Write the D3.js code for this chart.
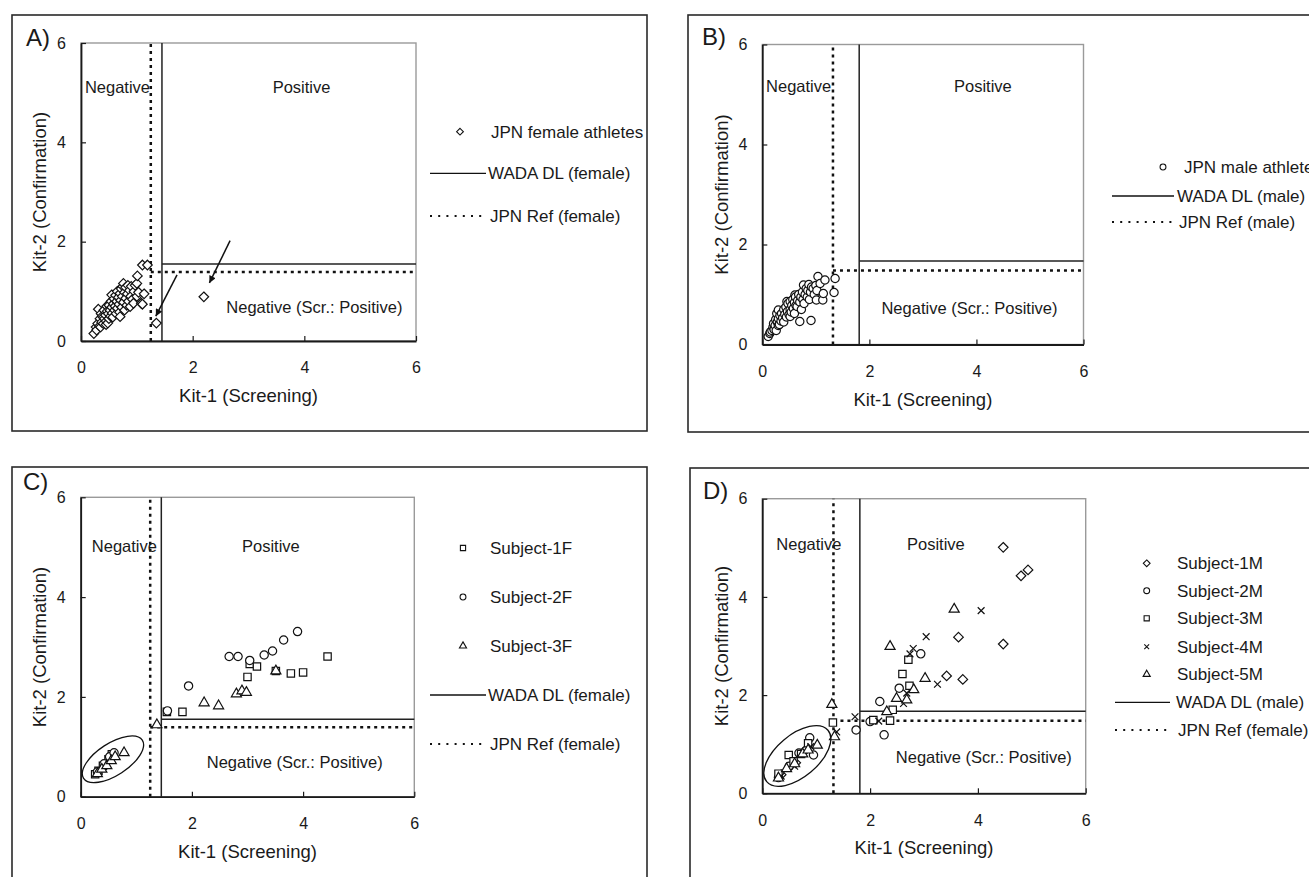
<!DOCTYPE html>
<html>
<head>
<meta charset="utf-8">
<script src="https://cdn.jsdelivr.net/npm/d3@7"></script>
<style>
  body { margin: 0; background: #fff; }
  svg text { font-family: "Liberation Sans", Arial, Helvetica, sans-serif; fill: #1a1a1a; }
</style>
</head>
<body>
<svg id="chart" width="1309" height="877"></svg>
<script>
// ---- data ----
const axisTicks = [0, 2, 4, 6];
const xTitle = "Kit-1 (Screening)";
const yTitle = "Kit-2 (Confirmation)";
const regionLabels = ["Negative", "Positive", "Negative (Scr.: Positive)"];
const panelLetters = ["A)", "B)", "C)", "D)"];

// thresholds [kit-1, kit-2]
const wadaFemale = [1.45, 1.55];
const jpnRefFemale = [1.25, 1.39];
const wadaMale = [1.81, 1.67];
const jpnRefMale = [1.32, 1.48];

const legendA = ["JPN female athletes", "WADA DL (female)", "JPN Ref (female)"];
const legendB = ["JPN male athletes", "WADA DL (male)", "JPN Ref (male)"];
const legendC = ["Subject-1F", "Subject-2F", "Subject-3F", "WADA DL (female)", "JPN Ref (female)"];
const legendD = ["Subject-1M", "Subject-2M", "Subject-3M", "Subject-4M", "Subject-5M", "WADA DL (male)", "JPN Ref (female)"];

const femaleAthletes = [
  [0.23,0.15],[0.27,0.28],[0.28,0.22],[0.30,0.35],[0.31,0.64],[0.33,0.30],[0.34,0.45],[0.35,0.28],
  [0.36,0.55],[0.37,0.38],[0.38,0.50],[0.40,0.35],[0.40,0.48],[0.41,0.62],[0.42,0.45],[0.44,0.52],
  [0.45,0.40],[0.45,0.33],[0.46,0.70],[0.47,0.60],[0.48,0.36],[0.49,0.55],[0.50,0.72],[0.50,0.45],
  [0.52,0.62],[0.53,0.50],[0.54,0.80],[0.55,0.93],[0.55,0.68],[0.56,0.56],[0.57,0.48],[0.58,0.75],
  [0.59,0.85],[0.60,0.62],[0.61,0.70],[0.62,0.92],[0.63,0.55],[0.64,0.80],[0.65,1.00],[0.65,0.66],
  [0.67,0.88],[0.68,0.74],[0.69,0.58],[0.70,0.96],[0.70,0.49],[0.71,0.82],[0.72,1.05],[0.73,0.68],
  [0.74,0.90],[0.75,1.10],[0.76,0.78],[0.76,1.16],[0.78,0.62],[0.78,0.98],[0.80,0.86],[0.80,1.08],
  [0.82,0.72],[0.83,0.95],[0.84,1.12],[0.85,0.80],[0.87,1.02],[0.88,0.69],[0.89,0.90],[0.90,1.10],
  [0.92,0.84],[0.94,0.76],[0.95,1.00],[0.97,1.12],[1.00,0.90],[1.00,1.16],[1.01,1.31],[1.03,0.98],
  [1.08,0.76],[1.10,0.74],[1.13,0.95],[1.10,1.53],[1.19,1.53],[1.35,0.36],[2.20,0.89]
];
const maleAthletes = [
  [0.11,0.16],[0.14,0.22],[0.15,0.25],[0.18,0.28],[0.20,0.35],[0.22,0.30],[0.21,0.42],[0.24,0.38],
  [0.25,0.50],[0.26,0.28],[0.27,0.62],[0.28,0.45],[0.30,0.52],[0.30,0.69],[0.30,0.38],[0.32,0.40],
  [0.33,0.58],[0.35,0.47],[0.36,0.62],[0.38,0.53],[0.40,0.70],[0.40,0.45],[0.42,0.60],[0.44,0.75],
  [0.45,0.55],[0.46,0.86],[0.47,0.66],[0.48,0.82],[0.50,0.60],[0.52,0.86],[0.52,0.70],[0.52,0.56],
  [0.54,0.65],[0.55,0.78],[0.57,0.90],[0.58,0.72],[0.60,0.62],[0.60,0.84],[0.61,0.99],[0.62,0.95],
  [0.63,0.78],[0.65,0.76],[0.66,0.88],[0.68,1.00],[0.70,0.85],[0.70,0.46],[0.72,0.95],[0.73,0.70],
  [0.75,1.05],[0.76,0.90],[0.77,1.19],[0.78,0.82],[0.80,1.00],[0.82,1.12],[0.84,0.95],[0.85,1.08],
  [0.87,1.20],[0.88,0.90],[0.90,1.05],[0.91,0.48],[0.92,1.15],[0.95,1.12],[0.97,1.00],[1.00,1.18],
  [1.01,0.89],[1.02,1.08],[1.04,1.36],[1.08,1.22],[1.13,0.89],[1.14,1.02],[1.17,1.29],[1.36,1.32],
  [1.34,1.04]
];
const subject1F = [[0.26,0.45],[0.32,0.52],[0.40,0.62],[0.50,0.75],[0.56,0.85],[1.55,1.70],[1.83,1.70],
  [3.00,2.40],[3.04,2.66],[3.17,2.61],[3.51,2.52],[3.78,2.47],[4.00,2.49],[4.44,2.81]];
const subject2F = [[0.30,0.50],[0.42,0.66],[0.52,0.80],[0.60,0.88],[1.56,1.72],[1.94,2.22],[2.67,2.81],
  [2.83,2.81],[3.04,2.73],[3.30,2.84],[3.45,2.92],[3.65,3.14],[3.90,3.31]];
const subject3F = [[0.30,0.46],[0.38,0.55],[0.47,0.62],[0.55,0.72],[0.62,0.80],[0.78,0.88],[1.37,1.44],
  [2.22,1.88],[2.48,1.82],[2.80,2.06],[2.90,2.12],[2.98,2.09],[3.51,2.52]];
const subject1M = [[0.35,0.38],[0.62,0.62],[0.80,0.88],[3.42,2.39],[3.64,3.18],[3.72,2.32],[4.47,3.04],
  [4.47,5.01],[4.80,4.43],[4.93,4.55]];
const subject2M = [[0.30,0.32],[0.50,0.55],[0.68,0.82],[0.88,1.13],[0.95,0.78],[1.74,1.29],[2.00,1.46],
  [2.18,1.87],[2.26,1.19],[2.54,2.14],[2.94,2.84]];
const subject3M = [[0.30,0.40],[0.49,0.78],[0.58,0.65],[0.72,0.80],[0.85,1.02],[1.31,1.44],[2.06,1.49],
  [2.37,1.48],[2.42,1.70],[2.60,2.43],[2.71,2.72],[2.73,2.19]];
const subject4M = [[0.35,0.35],[0.60,0.55],[0.90,0.95],[1.38,1.25],[1.72,1.56],[2.16,1.47],[2.62,1.83],
  [2.68,2.04],[2.74,2.84],[2.80,2.95],[3.04,3.19],[3.25,2.22],[4.06,3.72]];
const subject5M = [[0.30,0.31],[0.45,0.50],[0.60,0.60],[0.75,0.80],[0.85,0.88],[1.02,0.98],[1.29,1.81],
  [1.34,1.15],[2.31,1.66],[2.49,1.93],[2.68,1.90],[2.81,2.11],[3.02,2.34],[2.37,2.99],[3.56,3.75]];

// ---- symbols ----
const symDiamond = { draw(ctx, size) { const r = Math.sqrt(size / 2); ctx.moveTo(0, -r); ctx.lineTo(r, 0); ctx.lineTo(0, r); ctx.lineTo(-r, 0); ctx.closePath(); } };
const symCross = { draw(ctx, size) { const r = Math.sqrt(size) / 2; ctx.moveTo(-r, -r); ctx.lineTo(r, r); ctx.moveTo(-r, r); ctx.lineTo(r, -r); } };
const symbols = {
  diamond: [symDiamond, 46],
  circle: [d3.symbolCircle, 54],
  square: [d3.symbolSquare, 54],
  cross: [symCross, 46],
  triangle: [d3.symbolTriangle, 44]
};

const svg = d3.select("#chart");
svg.append("defs").append("marker")
  .attr("id", "arrow").attr("viewBox", "0 0 10 10")
  .attr("refX", 10).attr("refY", 5)
  .attr("markerWidth", 9).attr("markerHeight", 7)
  .attr("markerUnits", "userSpaceOnUse").attr("orient", "auto")
  .append("path").attr("d", "M0,0L10,5L0,10z").attr("fill", "#111");

const panels = [
  { letter: panelLetters[0], box: [12, 15, 647, 431], plot: [81, 43, 416, 341], letterPos: [26, 46],
    wada: wadaFemale, ref: jpnRefFemale,
    series: [{ data: femaleAthletes, sym: "diamond" }], labels: legendA,
    legend: { mx: 460, tx: 491, lx1: 430, lx2: 486, ltx: 488, rows: [131.7, 173.3, 216] },
    regions: [[0.07, 5.0], [3.95, 5.0], [4.18, 0.56]],
    arrows: [[[1.72, 1.33], [1.34, 0.50]], [[2.67, 2.02], [2.30, 1.17]]] },
  { letter: panelLetters[1], box: [688, 15, 1330, 432], plot: [762.3, 44.5, 1083.5, 344.5], letterPos: [702, 45],
    wada: wadaMale, ref: jpnRefMale,
    series: [{ data: maleAthletes, sym: "circle" }], labels: legendB,
    legend: { mx: 1163, tx: 1184, lx1: 1112, lx2: 1174, ltx: 1177, rows: [167, 196, 222] },
    regions: [[0.07, 5.06], [4.12, 5.06], [3.87, 0.62]] },
  { letter: panelLetters[2], box: [12, 467, 647, 900], plot: [80.7, 497.3, 414.3, 796.7], letterPos: [23, 490],
    wada: wadaFemale, ref: jpnRefFemale,
    series: [{ data: subject1F, sym: "square" }, { data: subject2F, sym: "circle" }, { data: subject3F, sym: "triangle" }],
    labels: legendC,
    legend: { mx: 463, tx: 490, lx1: 430, lx2: 486, ltx: 488, rows: [548, 597, 646, 695, 744] },
    regions: [[0.2, 4.91], [3.42, 4.91], [3.85, 0.57]],
    ellipse: { cx: 0.58, cy: 0.75, rx: 35, ry: 16, angle: 33 } },
  { letter: panelLetters[3], box: [690, 468, 1330, 900], plot: [762.3, 498.7, 1085.7, 793.3], letterPos: [703, 499],
    wada: wadaMale, ref: jpnRefMale,
    series: [{ data: subject1M, sym: "diamond" }, { data: subject2M, sym: "circle" }, { data: subject3M, sym: "square" },
             { data: subject4M, sym: "cross" }, { data: subject5M, sym: "triangle" }],
    labels: legendD,
    legend: { mx: 1146.7, tx: 1177, lx1: 1115, lx2: 1170, ltx: 1176, rows: [563.3, 590.7, 618.3, 646.7, 674.3, 702.3, 730] },
    regions: [[0.26, 4.95], [3.22, 4.95], [4.11, 0.62]],
    ellipse: { cx: 0.65, cy: 0.76, rx: 40, ry: 21, angle: 40 } }
];

function drawPanel(p) {
  const g = svg.append("g");
  g.append("rect")
    .attr("x", p.box[0]).attr("y", p.box[1])
    .attr("width", p.box[2] - p.box[0]).attr("height", p.box[3] - p.box[1])
    .attr("fill", "none").attr("stroke", "#2a2a2a").attr("stroke-width", 1.6);

  const x = d3.scaleLinear().domain([0, 6]).range([p.plot[0], p.plot[2]]);
  const y = d3.scaleLinear().domain([0, 6]).range([p.plot[3], p.plot[1]]);

  // plot frame (grey top/right)
  g.append("rect")
    .attr("x", x(0)).attr("y", y(6)).attr("width", x(6) - x(0)).attr("height", y(0) - y(6))
    .attr("fill", "none").attr("stroke", "#9a9a9a").attr("stroke-width", 1.4);

  // threshold lines
  const dotted = (x1, y1, x2, y2) => g.append("line")
    .attr("x1", x(x1)).attr("y1", y(y1)).attr("x2", x(x2)).attr("y2", y(y2))
    .attr("stroke", "#111").attr("stroke-width", 2.5).attr("stroke-dasharray", "3,4");
  const solid = (x1, y1, x2, y2) => g.append("line")
    .attr("x1", x(x1)).attr("y1", y(y1)).attr("x2", x(x2)).attr("y2", y(y2))
    .attr("stroke", "#222").attr("stroke-width", 1.5);
  dotted(p.ref[0], 0, p.ref[0], 6);
  dotted(p.ref[0], p.ref[1], 6, p.ref[1]);
  solid(p.wada[0], 0, p.wada[0], 6);
  solid(p.wada[0], p.wada[1], 6, p.wada[1]);

  // axes
  const xAxis = g.append("g").attr("transform", "translate(0," + y(0) + ")")
    .call(d3.axisBottom(x).tickValues(axisTicks).tickFormat(d3.format("d"))
      .tickSizeInner(-5).tickSizeOuter(0).tickPadding(21));
  const yAxis = g.append("g").attr("transform", "translate(" + x(0) + ",0)")
    .call(d3.axisLeft(y).tickValues(axisTicks).tickFormat(d3.format("d"))
      .tickSizeInner(-5).tickSizeOuter(0).tickPadding(15));
  [xAxis, yAxis].forEach(a => {
    a.select(".domain").attr("stroke", "#1a1a1a").attr("stroke-width", 1.8);
    a.selectAll(".tick line").attr("stroke", "#1a1a1a").attr("stroke-width", 1.2);
    a.selectAll(".tick text").style("font-size", "16px").attr("fill", "#1a1a1a");
  });

  // points
  p.series.forEach(s => {
    const [type, size] = symbols[s.sym];
    g.append("g").selectAll("path").data(s.data).join("path")
      .attr("transform", d => "translate(" + x(d[0]) + "," + y(d[1]) + ")")
      .attr("d", d3.symbol(type, size))
      .attr("fill", s.sym === "cross" ? "none" : "#fff")
      .attr("stroke", "#111").attr("stroke-width", 1.2);
  });

  if (p.ellipse) {
    const e = p.ellipse;
    g.append("ellipse")
      .attr("transform", "translate(" + x(e.cx) + "," + y(e.cy) + ") rotate(" + (-e.angle) + ")")
      .attr("rx", e.rx).attr("ry", e.ry)
      .attr("fill", "none").attr("stroke", "#111").attr("stroke-width", 1.3);
  }

  (p.arrows || []).forEach(a => {
    g.append("line")
      .attr("x1", x(a[0][0])).attr("y1", y(a[0][1])).attr("x2", x(a[1][0])).attr("y2", y(a[1][1]))
      .attr("stroke", "#111").attr("stroke-width", 1.5).attr("marker-end", "url(#arrow)");
  });

  // region labels
  g.append("text").attr("x", x(p.regions[0][0])).attr("y", y(p.regions[0][1]))
    .style("font-size", "16.5px").text(regionLabels[0]);
  g.append("text").attr("x", x(p.regions[1][0])).attr("y", y(p.regions[1][1]))
    .attr("text-anchor", "middle").style("font-size", "16.5px").text(regionLabels[1]);
  g.append("text").attr("x", x(p.regions[2][0])).attr("y", y(p.regions[2][1]))
    .attr("text-anchor", "middle").style("font-size", "16.5px").text(regionLabels[2]);

  // axis titles
  g.append("text").attr("x", (x(0) + x(6)) / 2).attr("y", y(0) + 61)
    .attr("text-anchor", "middle").style("font-size", "18.5px").text(xTitle);
  g.append("text")
    .attr("transform", "translate(" + (x(0) - 41) + "," + ((y(0) + y(6)) / 2) + ") rotate(-90)")
    .attr("text-anchor", "middle").attr("dy", "0.35em").style("font-size", "18.5px").text(yTitle);

  // panel letter
  g.append("text").attr("x", p.letterPos[0]).attr("y", p.letterPos[1])
    .style("font-size", "24px").text(p.letter);

  // legend
  const L = p.legend;
  p.series.forEach((s, i) => {
    const [type, size] = symbols[s.sym];
    g.append("path")
      .attr("transform", "translate(" + L.mx + "," + L.rows[i] + ")")
      .attr("d", d3.symbol(type, size * 0.5))
      .attr("fill", s.sym === "cross" ? "none" : "#fff")
      .attr("stroke", "#111").attr("stroke-width", 1.1);
    g.append("text").attr("x", L.tx).attr("y", L.rows[i]).attr("dy", "0.35em")
      .style("font-size", "17px").text(p.labels[i]);
  });
  const n = p.series.length;
  g.append("line").attr("x1", L.lx1).attr("x2", L.lx2).attr("y1", L.rows[n]).attr("y2", L.rows[n])
    .attr("stroke", "#111").attr("stroke-width", 1.3);
  g.append("text").attr("x", L.ltx).attr("y", L.rows[n]).attr("dy", "0.35em")
    .style("font-size", "17px").text(p.labels[n]);
  g.append("line").attr("x1", L.lx1).attr("x2", L.lx2).attr("y1", L.rows[n + 1]).attr("y2", L.rows[n + 1])
    .attr("stroke", "#111").attr("stroke-width", 2).attr("stroke-dasharray", "2,6.2");
  g.append("text").attr("x", L.ltx + 2).attr("y", L.rows[n + 1]).attr("dy", "0.35em")
    .style("font-size", "17px").text(p.labels[n + 1]);
}

panels.forEach(drawPanel);
</script>
</body>
</html>
